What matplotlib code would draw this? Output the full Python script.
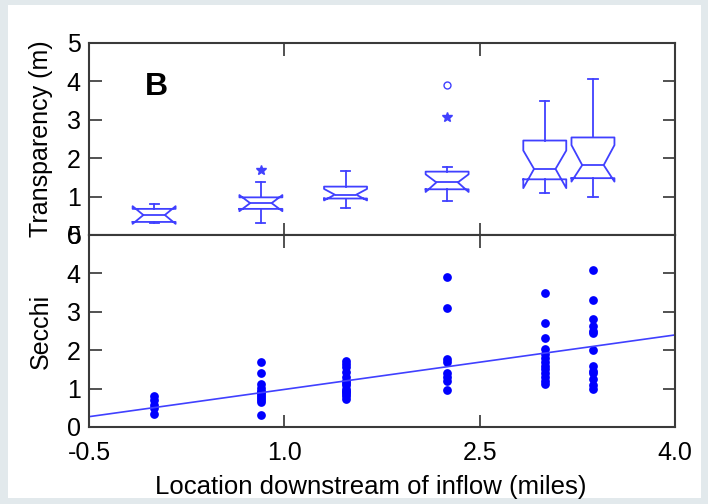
import numpy as np
import matplotlib.pyplot as plt
from matplotlib.patches import Rectangle

plt.rcParams['font.family'] = ['Liberation Sans', 'DejaVu Sans']

# sampling sites, miles downstream of inflow
site_x = [0.0, 0.82, 1.47, 2.25, 3.0, 3.37]

# Secchi depth readings (m) at each site
secchi_1 = [0.8, 0.7, 0.57, 0.5, 0.33]
secchi_2 = [1.7, 1.4, 1.12, 1.02, 0.95, 0.9, 0.85, 0.8, 0.75, 0.7, 0.65, 0.3]
secchi_3 = [1.73, 1.65, 1.55, 1.42, 1.3, 1.2, 1.15, 1.1, 1.0, 0.95, 0.9, 0.85, 0.8, 0.74]
secchi_4 = [3.9, 3.1, 1.78, 1.68, 1.4, 1.3, 1.2, 0.97]
secchi_5 = [3.5, 2.72, 2.32, 2.02, 1.9, 1.8, 1.7, 1.6, 1.5, 1.4, 1.3, 1.2, 1.13]
secchi_6 = [4.1, 3.3, 2.8, 2.62, 2.5, 2.45, 2.0, 1.6, 1.47, 1.4, 1.25, 1.1, 1.0]
secchi = [secchi_1, secchi_2, secchi_3, secchi_4, secchi_5, secchi_6]

# box statistics
box_q1 = [0.34, 0.68, 0.95, 1.19, 1.45, 1.48]
box_med = [0.52, 0.83, 1.05, 1.37, 1.72, 1.82]
box_q3 = [0.68, 0.98, 1.26, 1.65, 2.46, 2.54]
box_cilo = [0.29, 0.62, 0.9, 1.12, 1.22, 1.39]
box_cihi = [0.75, 1.04, 1.2, 1.58, 2.2, 2.34]
box_whislo = [0.3, 0.3, 0.7, 0.88, 1.1, 1.0]
box_whishi = [0.82, 1.37, 1.67, 1.78, 3.49, 4.07]

# points beyond the whiskers
outlier_x = [0.82, 2.25, 2.25]
outlier_y = [1.69, 3.08, 3.91]
outlier_marker = ['*', '*', 'o']

# linear fit shown in the lower panel
fit_slope = 0.473
fit_intercept = 0.505

blue = '#4040ff'
fs = 18
fig, (ax1, ax2) = plt.subplots(2, 1, sharex=True, figsize=(7.08, 5.04), dpi=100)
fig.patch.set_facecolor('#e2e9ec')
fig.patches.append(Rectangle((8 / 708, 6 / 504), 693 / 708, 493 / 504,
                             transform=fig.transFigure, facecolor='white',
                             edgecolor='none', zorder=-1))
fig.subplots_adjust(left=0.1257, right=0.9534, top=0.9147, bottom=0.1528, hspace=0)

stats = []
for i in range(len(site_x)):
    stats.append(dict(med=box_med[i], q1=box_q1[i], q3=box_q3[i],
                      cilo=box_cilo[i], cihi=box_cihi[i],
                      whislo=box_whislo[i], whishi=box_whishi[i], fliers=[]))
lp = dict(color=blue, lw=1.3)
ax1.bxp(stats, positions=site_x, widths=0.33, shownotches=True, showfliers=False,
        boxprops=lp, whiskerprops=lp, capprops=lp, medianprops=lp,
        capwidths=0.07, manage_ticks=False)
for x, y, m in zip(outlier_x, outlier_y, outlier_marker):
    ax1.plot(x, y, m, color=blue, mfc='none' if m == 'o' else blue,
             ms=5 if m == 'o' else 7, mew=1)
ax1.text(0.02, 3.85, 'B', fontsize=23, fontweight='bold', ha='center', va='center')

for x, vals in zip(site_x, secchi):
    ax2.plot([x] * len(vals), vals, 'o', color='#0000ff', ms=6.3, mec='none')
ax2.set_xlim(-0.5, 4.0)
xs = np.array(ax2.get_xlim())
ax2.plot(xs, fit_intercept + fit_slope * xs, color=blue, lw=1.2)

for ax in (ax1, ax2):
    ax.set_ylim(0, 5)
    ax.set_yticks(range(6))
    ax.set_xticks([-0.5, 1.0, 2.5, 4.0])
    ax.tick_params(direction='in', length=9, width=1.2, top=True, right=True,
                   labelsize=fs, pad=6, color='#333333')
    for s in ax.spines.values():
        s.set_color('#3a3a3a')
        s.set_linewidth(1.5)
ax2.set_xticklabels(['-0.5', '1.0', '2.5', '4.0'])
ax2.tick_params(axis='x', pad=10)

ax1.set_ylabel('Transparency (m)', fontsize=fs)
ax2.set_ylabel('Secchi', fontsize=fs)
ax1.yaxis.set_label_coords(-0.062, 0.5)
ax2.yaxis.set_label_coords(-0.062, 0.5)
ax2.set_xlabel('Location downstream of inflow (miles)', fontsize=18.5)
ax2.xaxis.set_label_coords(0.48, -0.25)

plt.savefig('out.png', dpi=100, facecolor=fig.get_facecolor())
